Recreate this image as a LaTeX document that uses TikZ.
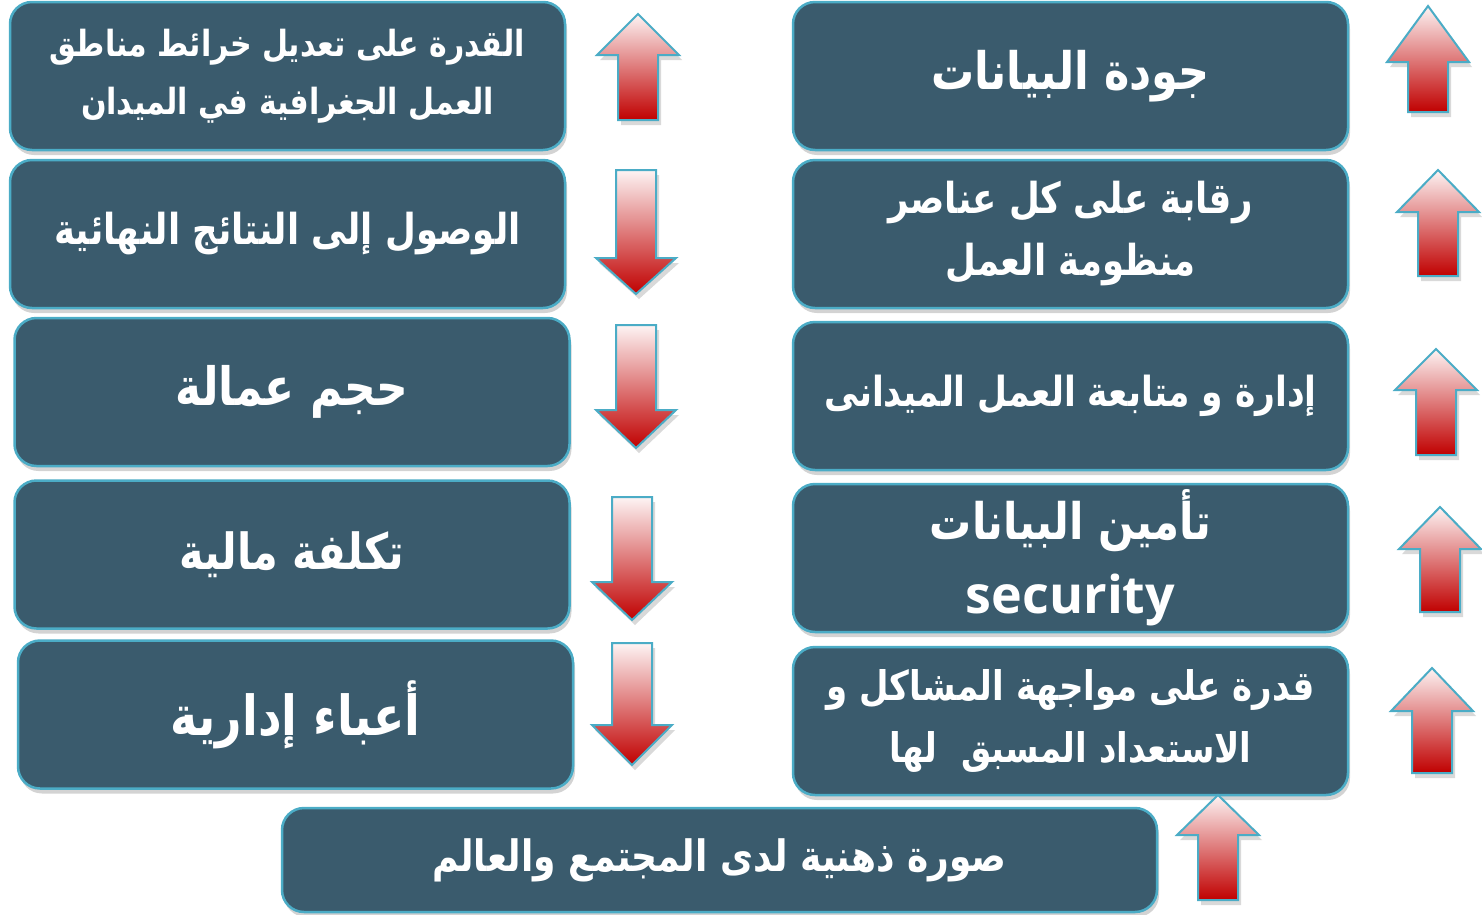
\documentclass[tikz,border=0pt]{standalone}
\usepackage{fontspec}
\setmainfont{DejaVu Sans}
\newfontfamily\arabicfont[Script=Arabic]{DejaVu Sans}
\newfontfamily\latinfont{Open Sans}
\TeXXeTstate=1
\usetikzlibrary{shadows}
\definecolor{boxfill}{HTML}{3A5B6D}
\definecolor{edgeblue}{HTML}{4BACC6}
\definecolor{arrtop}{HTML}{FDF4F4}
\definecolor{arrbot}{HTML}{C00000}
\newcommand{\arrUp}[4]{\path[arrowshape] (#1,#2) -- (#1+41,#3) -- (#1+20,#3) -- (#1+20,#4) -- (#1-20,#4) -- (#1-20,#3) -- (#1-41,#3) -- cycle;}
\newcommand{\arrDown}[4]{\path[arrowshape] (#1,#2) -- (#1+40,#3) -- (#1+20,#3) -- (#1+20,#4) -- (#1-20,#4) -- (#1-20,#3) -- (#1-40,#3) -- cycle;}
\newcommand{\AR}[1]{\scalebox{1}[1.2]{\beginR #1\endR}}
\begin{document}
\begin{tikzpicture}[x=1pt,y=-1pt,
  panel/.style={draw=edgeblue, line width=2.5pt, fill=boxfill, rounded corners=22pt,
    text=white, align=center, inner sep=0pt,
    drop shadow={opacity=0.35, shadow xshift=2pt, shadow yshift=-5pt}},
  wide/.style={minimum width=555pt, minimum height=148pt},
  arrowshape/.style={draw=edgeblue, line width=2pt, top color=arrtop, bottom color=arrbot,
    drop shadow={opacity=0.3, shadow xshift=3pt, shadow yshift=-5pt}},
  fs/.style={font=\arabicfont\bfseries\fontsize{#1}{58}\selectfont}
]
\useasboundingbox (0,0) rectangle (1482,914);
% left column
\node[panel, wide, fs=30] (L1) at (287.5,76) {\AR{القدرة على تعديل خرائط مناطق}\\\AR{العمل الجغرافية في الميدان}};
\node[panel, wide, fs=35.5] (L2) at (287.5,234) {\AR{الوصول إلى النتائج النهائية}};
\node[panel, wide, fs=44] (L3) at (292,392) {\AR{حجم عمالة}};
\node[panel, wide, fs=41.5] (L4) at (292,554.5) {\AR{تكلفة مالية}};
\node[panel, wide, fs=46] (L5) at (295.5,714.5) {\AR{أعباء إدارية}};
% right column
\node[panel, wide, fs=43] (R1) at (1070.5,76) {\AR{جودة البيانات}};
\node[panel, wide, fs=35.5] (R2) at (1070.5,234) {\AR{رقابة على كل عناصر}\\[4pt]\AR{منظومة العمل}};
\node[panel, wide, fs=34.5] (R3) at (1070.5,396) {\AR{إدارة و متابعة العمل الميدانى}};
\node[panel, wide, fs=42] (R4) at (1070.5,558) {\AR{تأمين البيانات}\\[16pt]{\latinfont\bfseries\fontsize{52}{58}\selectfont security}};
\node[panel, wide, fs=34] (R5) at (1070.5,721) {\AR{قدرة على مواجهة المشاكل و}\\[4pt]\AR{الاستعداد المسبق\ \ لها}};
% bottom
\node[panel, minimum width=875pt, minimum height=104pt, fs=36] (B) at (719.5,860) {\AR{صورة ذهنية لدى المجتمع والعالم}};
% arrows, left column
\arrUp{638}{14}{55}{120}
\arrDown{636}{294}{258}{170}
\arrDown{636}{448}{410}{325}
\arrDown{632}{620}{582}{497}
\arrDown{632}{765}{725}{643}
% arrows, right column
\arrUp{1428}{6}{62}{112}
\arrUp{1438}{170}{212}{276}
\arrUp{1436}{349}{390}{455}
\arrUp{1440}{507}{549}{612}
\arrUp{1432}{668}{711}{773}
\arrUp{1218}{795}{835}{900}
\end{tikzpicture}
\end{document}
